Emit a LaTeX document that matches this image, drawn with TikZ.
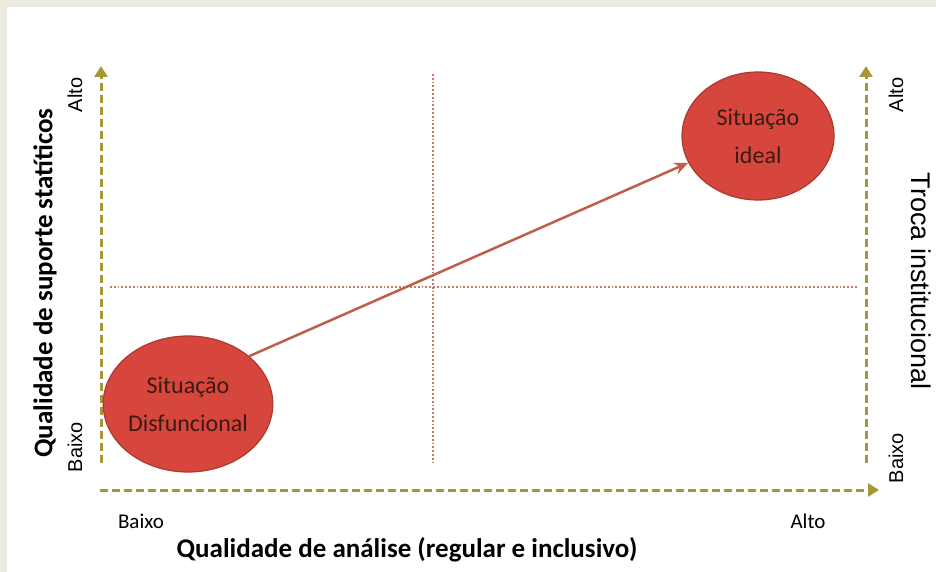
\documentclass[tikz,border=0pt]{standalone}
\usepackage{fontspec}
\setmainfont{Carlito}
\newfontfamily\arialf{Liberation Sans}
\usetikzlibrary{arrows.meta,shapes.geometric}
\definecolor{bgbeige}{HTML}{EDEAE0}
\definecolor{olivec}{HTML}{A8963A}
\definecolor{dotred}{HTML}{C8786A}
\definecolor{blobfill}{HTML}{D7463C}
\definecolor{blobedge}{HTML}{A83A30}
\definecolor{blobtext}{HTML}{3B1A14}
\definecolor{trendc}{HTML}{BE5F4B}
\begin{document}
\begin{tikzpicture}[x=1pt,y=-1pt,
  axisarrow/.style={draw=olivec, line width=3pt, dash pattern=on 8pt off 4pt,
    -{Triangle[width=13pt,length=11pt,fill=olivec]}},
  guide/.style={draw=dotred, line width=1.8pt, dash pattern=on 1.8pt off 2pt},
  blob/.style={ellipse, fill=blobfill, draw=blobedge, line width=1.2pt, inner sep=0pt,
    text=blobtext, align=center, font=\fontsize{24}{38}\selectfont},
  trend/.style={draw=trendc, line width=2.5pt, -{Stealth[length=14pt,width=12pt]}},
  sidelab/.style={font=\arialf\fontsize{20}{20}\selectfont, text=black, inner sep=0pt},
  botlab/.style={font=\fontsize{21}{21}\selectfont, text=black, inner sep=0pt},
  titlelab/.style={font=\bfseries\fontsize{27}{27}\selectfont, text=black, inner sep=0pt}
]
\fill[bgbeige] (0,0) rectangle (936,572);
\fill[white] (7,7) rectangle (936,572);
\useasboundingbox (0,0) rectangle (936,572);

% guide lines
\coordinate (vt) at (433,74); \coordinate (vb) at (433,465);
\coordinate (hl) at (110,287); \coordinate (hr) at (858,287);
\draw[guide] (vt) -- (vb);
\draw[guide] (hl) -- (hr);

% axes
\coordinate (lb) at (101,463); \coordinate (lt) at (101,66);
\coordinate (rb) at (866,463); \coordinate (rt) at (866,66);
\coordinate (bl) at (100,490); \coordinate (br) at (879,490);
\draw[axisarrow] (lb) -- (lt);
\draw[axisarrow] (rb) -- (rt);
\draw[axisarrow] (bl) -- (br);

% situations
\node[blob, minimum width=154pt, minimum height=136pt] (dis) at (188,404) {Situação\\Disfuncional};
\node[blob, minimum width=152pt, minimum height=128pt] (ideal) at (758,136) {Situação\\ideal};
\draw[trend] (dis.38) -- (ideal.201);

% labels
\node[sidelab, rotate=90] (lalto) at (75,95) {Alto};
\node[sidelab, rotate=90] (lbaixo) at (75,447) {Baixo};
\node[sidelab, rotate=90] (ralto) at (896,95) {Alto};
\node[sidelab, rotate=90] (rbaixo) at (896,458) {Baixo};
\node[titlelab, rotate=90] (ytitle) at (45,283) {Qualidade de suporte statíticos};
\node[font=\arialf\fontsize{27}{27}\selectfont, inner sep=0pt, rotate=-90] (rtitle) at (921,281) {Troca institucional};
\node[botlab] (bbaixo) at (141,521) {Baixo};
\node[botlab] (balto) at (808,521) {Alto};
\node[titlelab] (xtitle) at (407,550) {Qualidade de análise (regular e inclusivo)};
\end{tikzpicture}
\end{document}
